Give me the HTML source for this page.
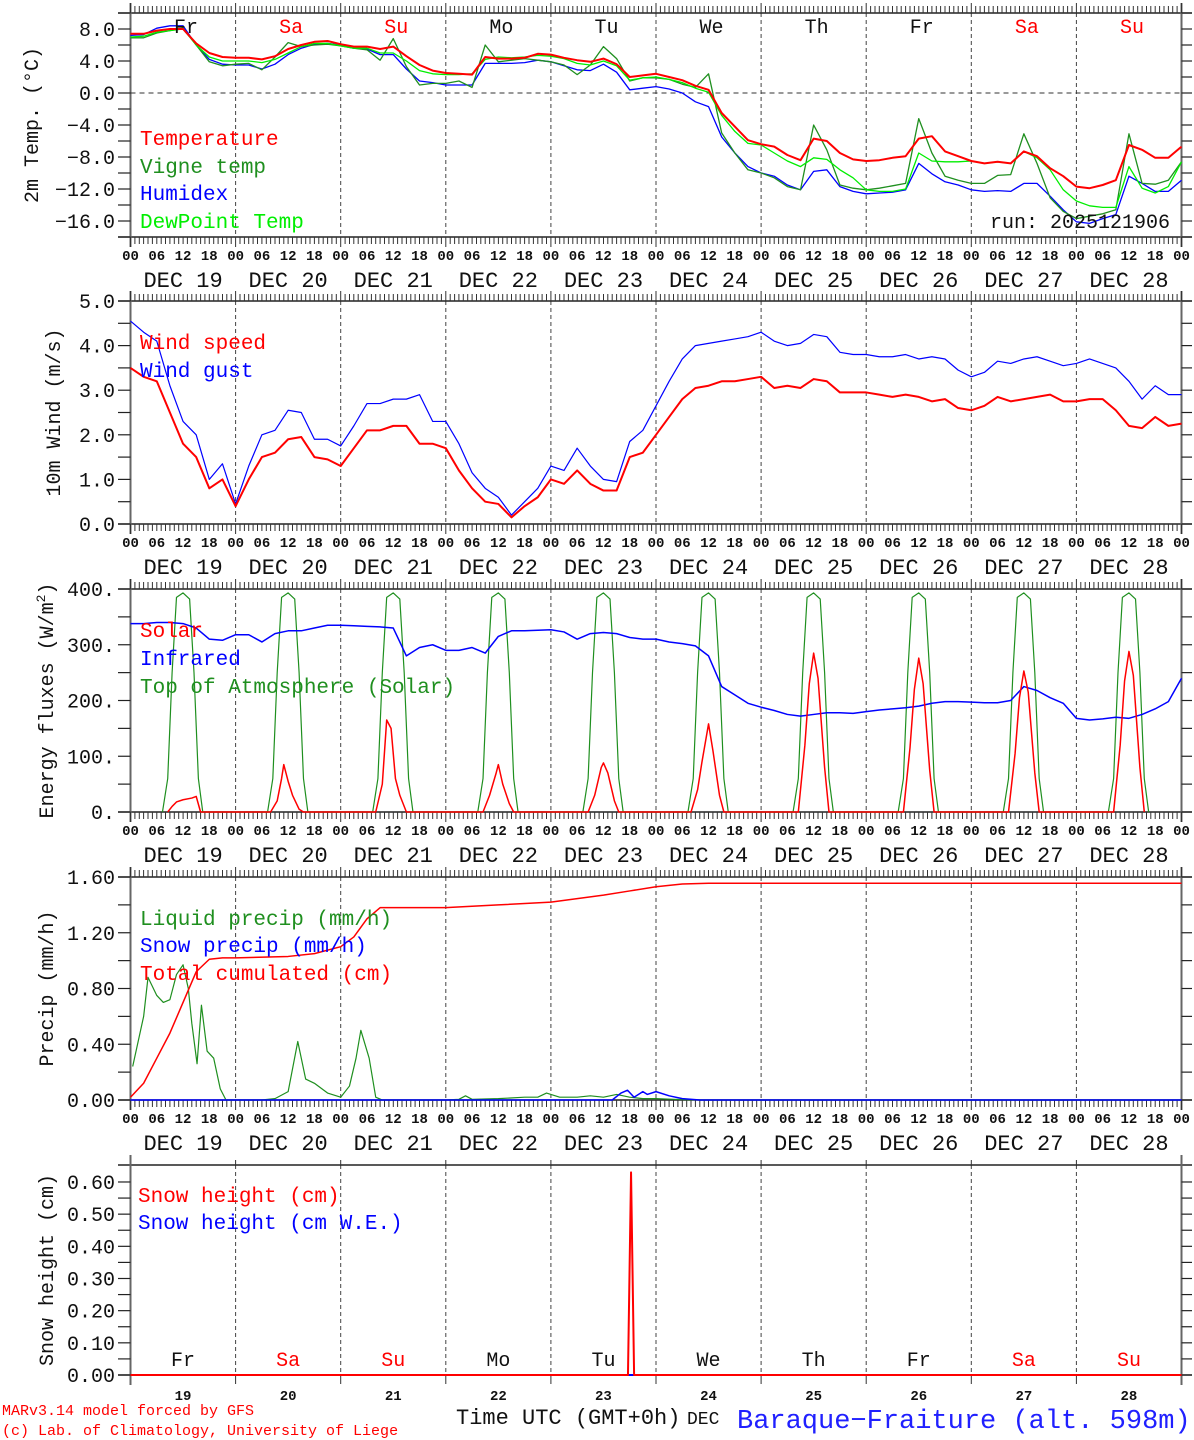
<!DOCTYPE html>
<html>
<head>
<meta charset="utf-8">
<title>MAR forecast - Baraque-Fraiture</title>
<style>
  html,body{margin:0;padding:0;background:#fff;}
  svg{display:block;}
  text{font-family:"Liberation Mono", monospace;}
</style>
</head>
<body>
<svg id="chart" xmlns="http://www.w3.org/2000/svg" width="1194" height="1440" viewBox="0 0 1194 1440"></svg>
<script>
// ---------- DATA ----------
const hours3 = Array.from({length:81},(_,i)=>i*3);
const dayNames = ["Fr","Sa","Su","Mo","Tu","We","Th","Fr","Sa","Su"];
const dayNums = ["19","20","21","22","23","24","25","26","27","28"];

const tempVals = [7.4,7.4,7.8,8.0,8.0,6.2,5.0,4.5, 4.4,4.4,4.2,4.6,5.5,6.0,6.4,6.5, 6.1,5.8,5.8,5.5,5.8,4.6,3.5,2.8, 2.5,2.4,2.3,4.5,4.3,4.3,4.4,4.9, 4.8,4.4,4.1,3.9,4.3,3.6,2.0,2.2, 2.4,2.0,1.6,0.9,0.4,-2.5,-4.2,-5.9, -6.4,-6.7,-7.75,-8.4,-5.7,-6.0,-7.5,-8.3, -8.5,-8.4,-8.1,-7.9,-5.7,-5.4,-7.3,-7.9, -8.5,-8.8,-8.6,-8.8,-7.3,-7.9,-9.4,-10.4, -11.7,-11.9,-11.5,-10.9,-6.5,-7.1,-8.1,-8.1, -6.7];
const vigneVals = [6.9,6.9,7.5,7.8,8.1,6.0,3.9,3.4, 3.6,3.7,2.9,4.5,6.3,5.8,6.0,6.1, 5.9,5.6,5.4,4.1,6.8,3.3,1.0,1.2, 1.2,1.5,0.7,6.0,3.9,4.1,4.3,4.1, 3.9,3.5,2.3,3.5,5.8,4.3,1.5,1.9, 1.9,1.7,1.1,0.7,2.4,-5.0,-7.5,-9.6, -10.0,-10.6,-11.7,-12.1,-4.0,-7.1,-11.5,-11.9, -12.1,-11.9,-11.6,-11.3,-3.2,-7.5,-10.4,-10.9, -11.3,-11.3,-10.3,-10.2,-5.1,-8.8,-13.1,-14.8, -15.7,-15.4,-15.1,-14.6,-5.1,-11.3,-11.4,-10.9, -8.6];
const humidexVals = [7.2,7.3,8.1,8.4,8.4,6.0,4.2,3.6, 3.5,3.5,3.0,3.6,4.8,5.6,6.1,6.2, 6.0,5.6,5.5,4.8,4.8,3.0,1.5,1.3, 1.0,1.0,1.0,3.7,3.7,3.7,3.8,4.1, 3.9,3.4,2.9,2.8,3.6,2.6,0.4,0.6, 0.8,0.5,0.0,-1.1,-1.7,-5.5,-7.5,-9.2, -10.0,-10.4,-11.5,-12.1,-9.8,-9.6,-11.7,-12.3, -12.6,-12.5,-12.4,-12.1,-8.8,-10.1,-11.1,-11.5, -12.1,-12.3,-12.2,-12.3,-11.3,-11.3,-12.9,-14.6, -16.1,-16.3,-15.7,-15.2,-10.4,-11.3,-12.3,-12.3, -10.9];
const dewVals = [7.0,7.1,7.6,7.8,8.0,6.0,4.5,4.0, 4.0,4.0,3.8,4.2,5.0,5.8,6.2,6.2, 5.9,5.6,5.6,5.0,5.0,4.0,2.8,2.4, 2.3,2.3,2.4,4.2,4.5,4.4,4.5,4.7, 4.6,4.3,3.7,3.5,4.0,3.4,1.6,1.9, 2.0,1.7,1.3,0.6,0.1,-2.8,-4.8,-6.3, -6.5,-7.5,-8.5,-9.2,-8.1,-8.3,-9.6,-10.6, -12.1,-12.3,-12.3,-12.0,-7.5,-8.5,-8.6,-8.6, -8.5,-8.8,-8.6,-8.8,-7.3,-8.1,-9.6,-12.1, -13.5,-14.1,-14.3,-14.3,-9.2,-11.9,-12.5,-11.7, -8.6];

const windSpeed = [3.5,3.3,3.2,2.5,1.8,1.5,0.8,1.0, 0.4,1.0,1.5,1.6,1.9,1.95,1.5,1.45, 1.3,1.7,2.1,2.1,2.2,2.2,1.8,1.8, 1.7,1.2,0.8,0.5,0.45,0.15,0.4,0.6, 1.0,0.9,1.2,0.9,0.75,0.75,1.5,1.6, 2.0,2.4,2.8,3.05,3.1,3.2,3.2,3.25, 3.3,3.05,3.1,3.05,3.25,3.2,2.95,2.95, 2.95,2.9,2.85,2.9,2.85,2.75,2.8,2.6, 2.55,2.65,2.85,2.75,2.8,2.85,2.9,2.75, 2.75,2.8,2.8,2.55,2.2,2.15,2.4,2.2, 2.25];
const windGust = [4.55,4.3,4.1,3.1,2.3,2.0,1.0,1.35, 0.45,1.3,2.0,2.1,2.55,2.5,1.9,1.9, 1.75,2.2,2.7,2.7,2.8,2.8,2.9,2.3, 2.3,1.8,1.15,0.8,0.6,0.2,0.5,0.8, 1.3,1.2,1.7,1.3,1.0,0.95,1.85,2.1, 2.65,3.2,3.7,4.0,4.05,4.1,4.15,4.2, 4.3,4.1,4.0,4.05,4.25,4.2,3.85,3.8, 3.8,3.75,3.75,3.8,3.7,3.75,3.7,3.45, 3.3,3.4,3.65,3.6,3.7,3.75,3.65,3.55, 3.6,3.7,3.6,3.5,3.2,2.8,3.1,2.9, 2.9];

const infraredVals = [338,338,340,340,338,330,310,308, 318,318,305,320,325,325,330,335, 335,334,333,332,330,280,295,300, 290,290,295,285,315,325,325,326, 327,323,310,320,322,320,313,310, 310,305,302,298,280,225,210,195, 188,182,175,172,175,178,178,177, 180,183,185,187,190,195,198,198, 197,196,196,200,225,218,205,195, 168,165,167,170,168,175,185,198, 240];

const toaHours = [
  7.3,8.5,9.5,10.5,12,13.5,14.5,15.5,16.5,
  31.3,32.5,33.5,34.5,36,37.5,38.5,39.5,40.5,
  55.3,56.5,57.5,58.5,60,61.5,62.5,63.5,64.5,
  79.3,80.5,81.5,82.5,84,85.5,86.5,87.5,88.5,
  103.3,104.5,105.5,106.5,108,109.5,110.5,111.5,112.5,
  127.3,128.5,129.5,130.5,132,133.5,134.5,135.5,136.5,
  151.3,152.5,153.5,154.5,156,157.5,158.5,159.5,160.5,
  175.3,176.5,177.5,178.5,180,181.5,182.5,183.5,184.5,
  199.3,200.5,201.5,202.5,204,205.5,206.5,207.5,208.5,
  223.3,224.5,225.5,226.5,228,229.5,230.5,231.5,232.5];
const toaVals = [
  0,60,250,385,393,382,250,60,0,
  0,60,250,385,393,382,250,60,0,
  0,60,250,385,393,382,250,60,0,
  0,60,250,385,393,382,250,60,0,
  0,60,250,385,393,382,250,60,0,
  0,60,250,385,393,382,250,60,0,
  0,60,250,385,393,382,250,60,0,
  0,60,250,385,393,382,250,60,0,
  0,60,250,385,393,382,250,60,0,
  0,60,250,385,393,382,250,60,0];

const solarHours = [
  8.5,9.5,10.5,12,14,15,16,
  32,33.5,34.5,35,36,37,38.5,39.5,
  56,57.5,58.5,59.5,60.5,61.5,63,
  80.5,82,83.5,84,85,86.5,87.5,
  104.5,106,107.5,108,109,110.5,111.5,
  128,129.5,130.5,132,133,134.5,135.5,
  152.5,154,155,156,157,158.5,159.5,
  176.5,178,179,180,181,182.5,183.5,
  200.5,202,203,204,205,206.5,207.5,
  224.5,226,227,228,229,230.5,231.5];
const solarVals = [
  0,10,18,22,25,28,0,
  0,20,60,85,55,30,5,0,
  0,50,165,150,60,30,0,
  0,30,70,85,50,15,0,
  0,30,80,88,70,20,0,
  0,40,90,158,110,30,0,
  0,120,230,285,240,80,0,
  0,115,220,276,230,75,0,
  0,105,205,253,215,70,0,
  0,120,235,288,245,80,0];

const liquidHours = [0.5,3,4,6,7.5,9,10.5,12,13.2,14,15.2,16.2,17.5,19,20.5,21.8,30,33,36,38.2,40,42,45,48,50,51.5,52.6,54.5,56,57.5,72,75,76.5,78,84,90,93,95,98,102,105,108,111,114,117,120,124,130,240];
const liquidVals  = [0.24,0.6,0.88,0.75,0.7,0.72,0.9,0.97,0.8,0.55,0.26,0.68,0.35,0.3,0.08,0,0,0.01,0.06,0.42,0.15,0.12,0.05,0.02,0.1,0.3,0.5,0.3,0.02,0,0,0.005,0.03,0.005,0.01,0.02,0.02,0.05,0.02,0.02,0.03,0.02,0.04,0.02,0.01,0.01,0.005,0,0];
const snowPrecipHours = [0,110,112,113.5,115,117,118,120,123,126,130,240];
const snowPrecipVals  = [0,0,0.05,0.07,0.02,0.06,0.04,0.06,0.03,0.01,0,0];
const cumulHours = [0,3,6,9,12,15,18,21,24,36,42,48,51,54,57,60,72,78,84,96,108,114,120,126,132,240];
const cumulVals  = [0.02,0.12,0.3,0.48,0.7,0.92,1.01,1.02,1.02,1.03,1.05,1.1,1.17,1.3,1.38,1.38,1.38,1.39,1.4,1.42,1.47,1.5,1.53,1.55,1.555,1.555];

const snowHHours = [0,113.6,114.3,115.0,240];
const snowHVals  = [0,0,0.63,0,0];
const snowWEHours = [0,240];
const snowWEVals  = [0,0];

// ---------- GEOMETRY ----------
const SVGNS = "http://www.w3.org/2000/svg";
const svg = document.getElementById('chart');
const XL = 130.5, XR = 1181.5;
function X(h){ return XL + h*(XR-XL)/240; }
const P1 = {top:13,  bot:237,  min:-18, max:10};
const P2 = {top:301, bot:524,  min:0,   max:5};
const P3 = {top:589, bot:812,  min:0,   max:400};
const P4 = {top:877, bot:1100, min:0,   max:1.6};
const P5 = {top:1165,bot:1375, min:0,   max:0.6528};
function Y(p,v){ return p.bot - (v-p.min)/(p.max-p.min)*(p.bot-p.top); }

function el(tag, attrs, parent){
  const e = document.createElementNS(SVGNS, tag);
  for (const k in attrs) e.setAttribute(k, attrs[k]);
  (parent||svg).appendChild(e);
  return e;
}
function txt(str, x, y, size, color, anchor, parent, weight){
  const t = el('text', {x:x, y:y, 'font-size':size, fill:color||'#000', 'text-anchor':anchor||'start', 'font-weight':weight||'normal'}, parent);
  t.textContent = str;
  return t;
}

function frame(p, name, yticks, ylabels, fmt, hourLabels){
  const g = el('g', {});
  
  
  for (let d=1; d<10; d++){
    const l = el('line', {x1:X(d*24), x2:X(d*24), y1:p.top, y2:p.bot, stroke:'#444', 'stroke-width':1, 'stroke-dasharray':'4,3'}, g);
    
    
  }
  el('line', {x1:118, x2:1192, y1:p.top, y2:p.top, stroke:'#222', 'stroke-width':1.5}, g);
  el('line', {x1:118, x2:1192, y1:p.bot, y2:p.bot, stroke:'#222', 'stroke-width':1.5}, g);
  el('line', {x1:XL, x2:XL, y1:p.top-10, y2:p.bot+10, stroke:'#666', 'stroke-width':2}, g);
  el('line', {x1:XR, x2:XR, y1:p.top-10, y2:p.bot+10, stroke:'#666', 'stroke-width':2}, g);
  yticks.forEach(v=>{
    const y = Y(p,v);
    el('line', {x1:118, x2:XL, y1:y, y2:y, stroke:'#222', 'stroke-width':1.2}, g);
    el('line', {x1:XR, x2:1192, y1:y, y2:y, stroke:'#222', 'stroke-width':1.2}, g);
  });
  ylabels.forEach(v=>{
    const t = txt(fmt(v), 115, Y(p,v)+7, 20, '#111', 'end', g);
    
    
  });
  if (hourLabels){
    let d = '';
    for (let h=0; h<=240; h++){
      const x = X(h).toFixed(1);
      const len = (h%24===0) ? 10 : 7;
      d += `M${x} ${p.top-len}V${p.top}M${x} ${p.bot}V${p.bot+len}`;
    }
    el('path', {d:d, stroke:'#333', 'stroke-width':1, fill:'none'}, g);
    for (let h=0; h<=240; h+=6){
      const s = String(h%24).padStart(2,'0');
      const t = txt(s, X(h), p.bot+23, 14, '#111', 'middle', g, 'bold');
      
      
    }
    for (let dd=0; dd<10; dd++){
      const t = txt('DEC ' + dayNums[dd], X(dd*24+12), p.bot+50, 22, '#111', 'middle', g);
      
      
    }
  } else {
    let d = '';
    for (let dd=1; dd<10; dd++){ const x = X(dd*24).toFixed(1); d += `M${x} ${p.bot}V${p.bot+9}M${x} ${p.top-5}V${p.top}`; }
    el('path', {d:d, stroke:'#333', 'stroke-width':1, fill:'none'}, g);
  }
  return g;
}

function series(p, hs, vs, color, width, name){
  let d = '';
  for (let i=0;i<hs.length;i++){
    d += (i?'L':'M') + X(hs[i]).toFixed(2) + ' ' + Y(p,vs[i]).toFixed(2);
  }
  const path = el('path', {d:d, stroke:color, 'stroke-width':width, fill:'none', 'stroke-linejoin':'round'});
  
  
  return path;
}
function axisTitle(str, p, x){
  const cy = (p.top+p.bot)/2;
  const t = el('text', {x:x, y:cy, 'font-size':20, fill:'#111', 'text-anchor':'middle', transform:`rotate(-90 ${x} ${cy})`});
  t.textContent = str;
  return t;
}
function legend(str, x, y, color){
  const t = txt(str, x, y, 21, color);
  
  
  return t;
}
function range(a,b,s){ const r=[]; for(let v=a; v<=b+1e-9; v+=s) r.push(Math.round(v*1000)/1000); return r; }
const neg = s => s.replace('-', '\u2212');

// ---------- PANEL 1: temperature ----------
frame(P1, 'temperature-panel', range(-18,10,2), [8,4,0,-4,-8,-12,-16], v=>neg(v.toFixed(1)), true);
const zl = el('line', {x1:XL, x2:XR, y1:Y(P1,0), y2:Y(P1,0), stroke:'#333', 'stroke-width':1, 'stroke-dasharray':'5,4'});


series(P1, hours3, humidexVals, '#0000ff', 1.3, 'humidex-line');
series(P1, hours3, vigneVals, '#1f8f1f', 1.3, 'vigne-temp-line');
series(P1, hours3, dewVals, '#00ee00', 1.3, 'dewpoint-line');
series(P1, hours3, tempVals, '#ff0000', 2, 'temperature-line');
const t1 = axisTitle('2m Temp. (\u00B0C)', P1, 38);


legend('Temperature', 140, 145, '#ff0000');
legend('Vigne temp', 140, 173, '#1f8f1f');
legend('Humidex', 140, 200, '#0000ff');
legend('DewPoint Temp', 140, 228, '#00ee00');
const run = txt('run: 2025121906', 1170, 228, 20, '#111', 'end');


for (let d=0; d<10; d++){
  const c = (dayNames[d]==='Sa'||dayNames[d]==='Su') ? '#ff0000' : '#111';
  const w = txt(dayNames[d], X(d*24+12)+3, 33, 20, c, 'middle');
  
  
}

// ---------- PANEL 2: wind ----------
frame(P2, 'wind-panel', range(0,5,0.5), [0,1,2,3,4,5], v=>v.toFixed(1), true);
series(P2, hours3, windGust, '#0000ff', 1.2, 'wind-gust-line');
series(P2, hours3, windSpeed, '#ff0000', 2, 'wind-speed-line');
const t2 = axisTitle('10m Wind (m/s)', P2, 60);


legend('Wind speed', 140, 349, '#ff0000');
legend('Wind gust', 140, 377, '#0000ff');

// ---------- PANEL 3: energy ----------
frame(P3, 'energy-panel', range(0,400,50), [0,100,200,300,400], v=>v.toFixed(0)+'.', true);
series(P3, toaHours, toaVals, '#1f8f1f', 1.2, 'toa-solar-line');
series(P3, hours3, infraredVals, '#0000ff', 1.5, 'infrared-line');
series(P3, solarHours, solarVals, '#ff0000', 1.5, 'solar-line');
const cy3 = (P3.top+P3.bot)/2;
const t3 = el('text', {x:53, y:cy3, 'font-size':20, fill:'#111', 'text-anchor':'middle', transform:`rotate(-90 53 ${cy3})`});


t3.innerHTML = 'Energy fluxes (W/m<tspan font-size="13" dy="-8">2</tspan><tspan dy="8">)</tspan>';
legend('Solar', 140, 637, '#ff0000');
legend('Infrared', 140, 665, '#0000ff');
legend('Top of Atmosphere (Solar)', 140, 693, '#1f8f1f');

// ---------- PANEL 4: precip ----------
frame(P4, 'precip-panel', range(0,1.6,0.2), [0,0.4,0.8,1.2,1.6], v=>v.toFixed(2), true);
series(P4, liquidHours, liquidVals, '#1f8f1f', 1.2, 'liquid-precip-line');
series(P4, snowPrecipHours, snowPrecipVals, '#0000ff', 1.5, 'snow-precip-line');
series(P4, cumulHours, cumulVals, '#ff0000', 1.5, 'cumulated-precip-line');
const t4 = axisTitle('Precip (mm/h)', P4, 53);


legend('Liquid precip (mm/h)', 140, 925, '#1f8f1f');
legend('Snow precip (mm/h)', 140, 952, '#0000ff');
legend('Total cumulated (cm)', 140, 980, '#ff0000');

// ---------- PANEL 5: snow ----------
frame(P5, 'snow-panel', range(0,0.6,0.05), [0,0.1,0.2,0.3,0.4,0.5,0.6], v=>v.toFixed(2), false);
series(P5, snowWEHours, snowWEVals, '#0000ff', 2, 'snow-we-line');
series(P5, snowHHours, snowHVals, '#ff0000', 2, 'snow-height-line');
const t5 = axisTitle('Snow height (cm)', P5, 53);


legend('Snow height (cm)', 138, 1202, '#ff0000');
legend('Snow height (cm W.E.)', 138, 1229, '#0000ff');
for (let d=0; d<10; d++){
  const c = (dayNames[d]==='Sa'||dayNames[d]==='Su') ? '#ff0000' : '#111';
  const w = txt(dayNames[d], X(d*24+12), 1366, 20, c, 'middle');
  
  
  const n = txt(dayNums[d], X(d*24+12), 1400, 14, '#111', 'middle', null, 'bold');
  
  
}

// ---------- FOOTER ----------
const f1 = txt('MARv3.14 model forced by GFS', 2, 1415, 15, '#ff0000');


const f2 = txt('(c) Lab. of Climatology, University of Liege', 2, 1435, 15, '#ff0000');


const f3 = txt('Time UTC (GMT+0h)', 456, 1424, 22, '#111');


const f4 = txt('DEC', 687, 1424, 18, '#111');


const f5 = txt('Baraque\u2212Fraiture (alt. 598m)', 737, 1428, 27, '#2020ff');


</script>
</body>
</html>
